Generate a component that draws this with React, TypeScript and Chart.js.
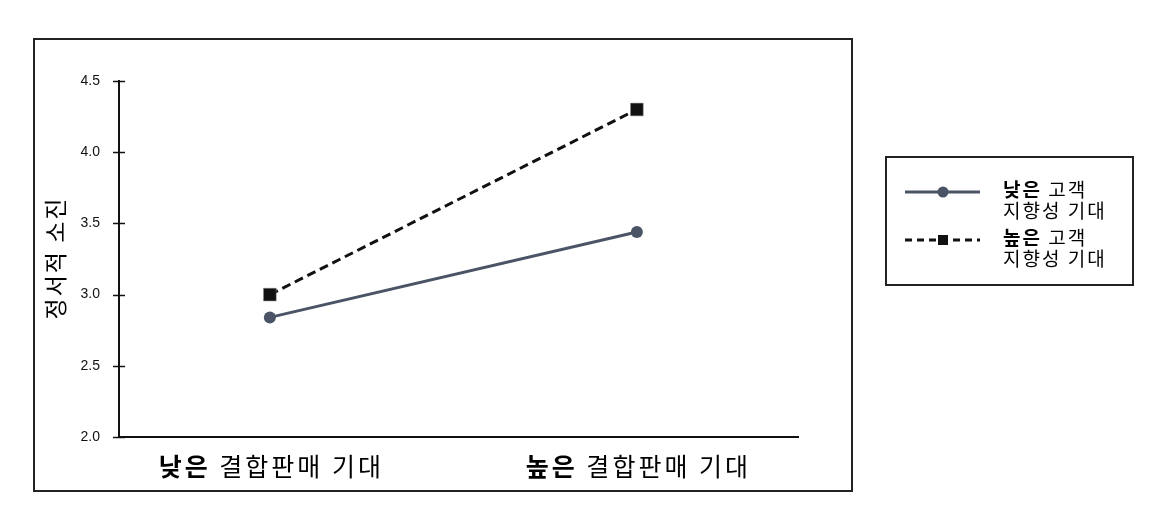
import React, { useEffect, useRef } from "react";
import { Chart, registerables } from "chart.js";

Chart.register(...registerables);

// ---- data ----
const categoryBold = ["낮은", "높은"];
const categoryRest = ["결합판매 기대", "결합판매 기대"];
const lowCustomerExp = [2.84, 3.44];
const highCustomerExp = [3.0, 4.3];
const seriesBold = ["낮은", "높은"];
const seriesRest1 = ["고객", "고객"];
const seriesRest2 = ["지향성 기대", "지향성 기대"];
const yTickValues = [2.0, 2.5, 3.0, 3.5, 4.0, 4.5];
const yTitle = "정서적 소진";

const FONT = "'Noto Sans CJK KR', 'Noto Sans', sans-serif";
const SLATE = "#4a5466";
const DARK = "#111111";

const decorPlugin = {
  id: "decor",
  afterDraw(chart: any) {
    const ctx: any = chart.ctx;
    const xs = chart.scales.x;
    const ys = chart.scales.y;
    const area = chart.chartArea;
    ctx.save();

    // outer frame
    ctx.strokeStyle = "#222";
    ctx.lineWidth = 2;
    ctx.strokeRect(34, 39, 818, 452);

    // y ticks crossing the axis
    ctx.strokeStyle = DARK;
    ctx.lineWidth = 1.5;
    yTickValues.forEach((v) => {
      const py = Math.round(ys.getPixelForValue(v)) + 0.5;
      ctx.beginPath();
      ctx.moveTo(area.left - 6, py);
      ctx.lineTo(area.left + 6, py);
      ctx.stroke();
    });

    // x category labels (bold + regular)
    ctx.fillStyle = "#000";
    ctx.textBaseline = "middle";
    ctx.textAlign = "left";
    ctx.letterSpacing = "3px";
    categoryBold.forEach((b, i) => {
      const px = xs.getPixelForValue(i);
      ctx.font = `bold 25px ${FONT}`;
      const wb = ctx.measureText(b).width;
      ctx.font = `25px ${FONT}`;
      const rest = " " + categoryRest[i];
      const wr = ctx.measureText(rest).width;
      const start = px - (wb + wr - 3) / 2;
      ctx.font = `bold 25px ${FONT}`;
      ctx.fillText(b, start, 466);
      ctx.font = `25px ${FONT}`;
      ctx.fillText(rest, start + wb, 466);
    });

    // y title
    ctx.save();
    ctx.translate(55, 259);
    ctx.rotate(-Math.PI / 2);
    ctx.textAlign = "center";
    ctx.letterSpacing = "2px";
    ctx.font = `23px ${FONT}`;
    ctx.fillText(yTitle, 1, 0);
    ctx.restore();

    // legend box
    ctx.strokeStyle = "#222";
    ctx.lineWidth = 2;
    ctx.strokeRect(886, 157, 247, 128);

    const ds = chart.data.datasets;
    const rows = [192, 240];
    rows.forEach((ry, i) => {
      const d = ds[i];
      ctx.save();
      ctx.strokeStyle = d.borderColor;
      ctx.lineWidth = 3;
      ctx.setLineDash(i === 1 ? [7, 5] : []);
      ctx.beginPath();
      ctx.moveTo(905, ry);
      ctx.lineTo(980, ry);
      ctx.stroke();
      ctx.setLineDash([]);
      ctx.fillStyle = d.pointBackgroundColor;
      if (i === 0) {
        ctx.beginPath();
        ctx.arc(943, ry, 5.5, 0, Math.PI * 2);
        ctx.fill();
      } else {
        ctx.fillRect(938, ry - 5, 10, 10);
      }
      ctx.restore();

      ctx.fillStyle = "#000";
      ctx.textAlign = "left";
      ctx.textBaseline = "middle";
      ctx.letterSpacing = "2px";
      ctx.font = `bold 19px ${FONT}`;
      const wb = ctx.measureText(seriesBold[i]).width;
      ctx.fillText(seriesBold[i], 1003, ry - 2);
      ctx.font = `19px ${FONT}`;
      ctx.fillText(" " + seriesRest1[i], 1003 + wb, ry - 2);
      ctx.fillText(seriesRest2[i], 1003, ry + 19);
    });

    ctx.restore();
  },
};

export default function App() {
  const ref = useRef<HTMLCanvasElement | null>(null);

  useEffect(() => {
    if (!ref.current) return;
    const toPoints = (vals: number[]) => vals.map((y, i) => ({ x: i, y }));
    const chart = new Chart(ref.current, {
      type: "line",
      data: {
        datasets: [
          {
            label: seriesBold[0] + " " + seriesRest1[0] + " " + seriesRest2[0],
            data: toPoints(lowCustomerExp),
            borderColor: SLATE,
            backgroundColor: SLATE,
            pointBackgroundColor: SLATE,
            pointBorderColor: SLATE,
            borderWidth: 3,
            pointRadius: 6,
            pointBorderWidth: 0,
            pointStyle: "circle",
          },
          {
            label: seriesBold[1] + " " + seriesRest1[1] + " " + seriesRest2[1],
            data: toPoints(highCustomerExp),
            borderColor: DARK,
            backgroundColor: DARK,
            pointBackgroundColor: DARK,
            pointBorderColor: "#888",
            borderWidth: 3,
            borderDash: [9, 5],
            pointRadius: 9,
            pointBorderWidth: 0.5,
            pointStyle: "rect",
          },
        ],
      },
      options: {
        animation: false,
        responsive: false,
        maintainAspectRatio: false,
        layout: { padding: { top: 81, right: 351, bottom: 0, left: 0 } },
        plugins: {
          legend: { display: false },
          tooltip: { enabled: false },
          title: { display: false },
        },
        scales: {
          x: {
            type: "linear",
            min: -0.411,
            max: 1.439,
            ticks: { display: false },
            grid: { display: false },
            border: { display: true, color: DARK, width: 2 },
            afterFit: (s: any) => {
              s.height = 78;
            },
          },
          y: {
            type: "linear",
            min: 2,
            max: 4.5,
            afterBuildTicks: (s: any) => {
              s.ticks = yTickValues.map((v) => ({ value: v }));
            },
            ticks: {
              padding: 11,
              color: "#111",
              font: { family: "'Liberation Sans', Arial, sans-serif", size: 14 },
              callback: (v: any) => Number(v).toFixed(1),
            },
            grid: { display: false },
            border: { display: true, color: DARK, width: 2 },
            afterFit: (s: any) => {
              s.width = 119;
            },
          },
        },
      },
      plugins: [decorPlugin],
    });
    return () => chart.destroy();
  }, []);

  return (
    <div style={{ position: "fixed", left: 0, top: 0, width: 1149, height: 515, background: "#fff" }}>
      <canvas ref={ref} width={1149} height={515} style={{ width: 1149, height: 515, display: "block" }} />
    </div>
  );
}
